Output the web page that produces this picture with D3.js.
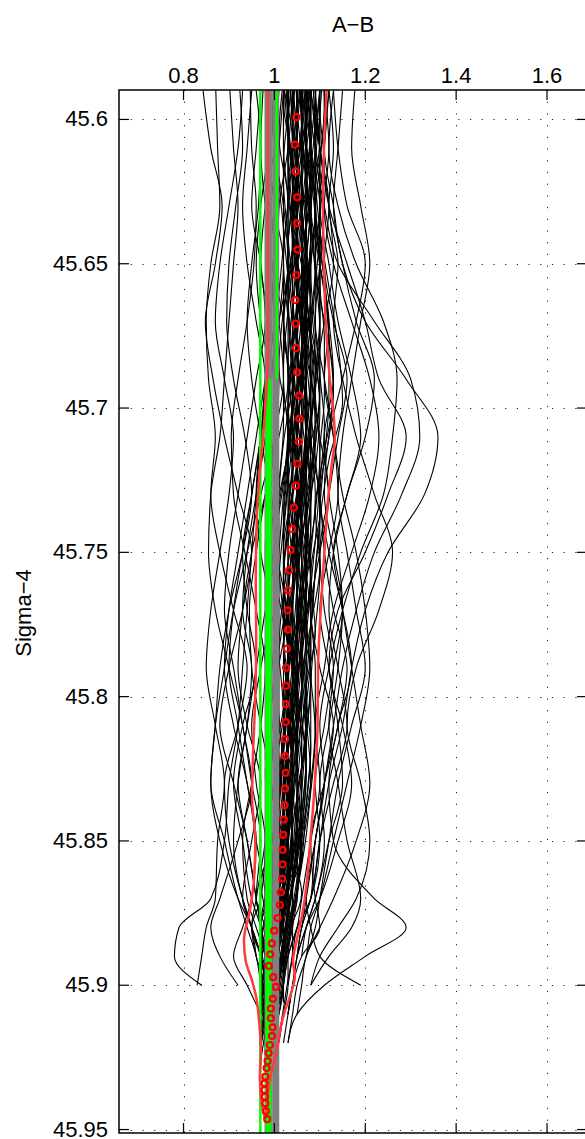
<html>
<head>
  <title>A-B vs Sigma-4</title>
  <script type="text/javascript" src="https://cdn.jsdelivr.net/npm/d3@7"></script>
  <style>
    body { margin: 0; background: #fff; }
    text { font-family: "Liberation Sans", Arial, Helvetica, sans-serif; }
  </style>
</head>
<body>
<script type="text/javascript">
  // size of the picture and of the plot box
  const w = 585;
  const h = 1139;
  const box = { left: 119, right: 587, top: 90, bottom: 1133 };

  // axis ticks
  const xTicks = [0.8, 1, 1.2, 1.4, 1.6];
  const yTicks = [45.6, 45.65, 45.7, 45.75, 45.8, 45.85, 45.9, 45.95];

  // sigma levels that every black profile is sampled on (profiles stop when their array ends)
  const sigmaLevels = [45.59, 45.61, 45.63, 45.65, 45.67, 45.69, 45.71, 45.73, 45.75, 45.77,
    45.79, 45.81, 45.83, 45.85, 45.87, 45.88, 45.89, 45.90, 45.91, 45.92, 45.93];

  // A-B values of the individual profiles (black lines)
  const profiles = [
    // dense core
    [1.02,1.02,1.03,1.03,1.02,1.02,1.03,1.02,1.01,1.00,1.00,1.01,1.01,1.00,0.99,0.98,0.98,0.98,0.99,0.98,0.98],
    [1.03,1.03,1.04,1.05,1.05,1.04,1.04,1.03,1.02,1.02,1.03,1.03,1.02,1.01,1.00,0.99,0.99,1.00,0.99,0.99],
    [1.04,1.04,1.04,1.03,1.03,1.04,1.05,1.05,1.04,1.03,1.02,1.02,1.03,1.02,1.01,1.00,0.99,0.98,0.98],
    [1.05,1.05,1.06,1.06,1.05,1.05,1.06,1.06,1.05,1.04,1.04,1.03,1.03,1.02,1.02,1.01,1.00,0.99,0.99,0.98],
    [1.06,1.06,1.05,1.05,1.06,1.07,1.07,1.06,1.04,1.04,1.05,1.05,1.04,1.03,1.02,1.02,1.01,1.00,0.99,0.99],
    [1.07,1.07,1.07,1.08,1.08,1.07,1.06,1.06,1.06,1.05,1.05,1.04,1.04,1.04,1.03,1.02,1.01,1.01,1.00,1.00],
    [1.08,1.08,1.07,1.07,1.08,1.09,1.09,1.08,1.07,1.07,1.06,1.06,1.05,1.05,1.04,1.03,1.02,1.01,1.00,1.00],
    [1.09,1.09,1.09,1.08,1.08,1.09,1.10,1.09,1.08,1.07,1.07,1.08,1.07,1.06,1.05,1.04,1.04,1.03,1.02,1.01],
    [1.10,1.10,1.09,1.09,1.10,1.10,1.11,1.10,1.09,1.08,1.08,1.07,1.07,1.06,1.05,1.04,1.03,1.02,1.02],
    [1.045,1.05,1.05,1.04,1.04,1.05,1.06,1.05,1.03,1.02,1.02,1.03,1.04,1.03,1.01,1.00,1.00,0.99,0.99,0.98,0.98],
    [1.055,1.05,1.04,1.04,1.05,1.06,1.05,1.04,1.04,1.05,1.06,1.05,1.03,1.02,1.02,1.01,1.01,1.00,1.00],
    [1.065,1.07,1.08,1.07,1.06,1.06,1.07,1.08,1.07,1.06,1.04,1.03,1.03,1.04,1.03,1.02,1.00,0.99,0.99],
    [1.075,1.07,1.06,1.06,1.07,1.08,1.08,1.07,1.05,1.04,1.04,1.05,1.05,1.04,1.02,1.01,1.01,1.02,1.01],
    [1.035,1.04,1.05,1.05,1.04,1.03,1.03,1.04,1.04,1.03,1.01,1.00,1.00,1.01,1.00,0.99,0.98,0.97,0.98,0.98],
    [1.085,1.08,1.08,1.09,1.10,1.10,1.09,1.07,1.06,1.06,1.07,1.07,1.06,1.05,1.05,1.04,1.03,1.02,1.01],
    [1.025,1.03,1.03,1.02,1.02,1.03,1.04,1.03,1.02,1.02,1.03,1.02,1.00,0.99,0.99,0.98,0.97,0.97,0.98,0.97,0.97],
    [1.095,1.10,1.10,1.10,1.09,1.08,1.08,1.09,1.10,1.09,1.08,1.06,1.05,1.05,1.04,1.03,1.02,1.01,1.01],
    [1.06,1.06,1.07,1.08,1.07,1.06,1.05,1.05,1.06,1.07,1.06,1.04,1.03,1.03,1.02,1.00,1.00,1.01,1.00],
    [1.04,1.03,1.03,1.04,1.05,1.05,1.04,1.02,1.01,1.01,1.02,1.04,1.04,1.03,1.02,1.01,1.00,0.99,0.99,0.98],
    [1.07,1.07,1.06,1.06,1.07,1.07,1.06,1.05,1.05,1.06,1.07,1.07,1.06,1.04,1.03,1.02,1.02,1.01,1.00],
    [1.05,1.06,1.06,1.07,1.07,1.06,1.06,1.07,1.06,1.04,1.03,1.03,1.02,1.02,1.01,1.01,1.00,0.99,0.99,0.99],
    [1.08,1.09,1.09,1.09,1.08,1.07,1.07,1.08,1.08,1.08,1.09,1.09,1.08,1.06,1.05,1.04,1.03,1.03,1.02,1.01],
    [1.03,1.03,1.02,1.02,1.03,1.04,1.04,1.03,1.03,1.04,1.04,1.03,1.02,1.02,1.01,0.99,0.98,0.98,0.98,0.97],
    [1.06,1.05,1.05,1.06,1.06,1.07,1.08,1.07,1.05,1.04,1.04,1.04,1.05,1.05,1.03,1.02,1.01,1.00,1.01,1.00],
    [1.04,1.04,1.05,1.06,1.06,1.05,1.05,1.06,1.07,1.06,1.05,1.04,1.03,1.03,1.02,1.01,1.02,1.01,1.00],
    [1.07,1.08,1.08,1.07,1.06,1.05,1.05,1.06,1.07,1.07,1.06,1.05,1.05,1.06,1.05,1.03,1.02,1.01,1.00],
    [1.10,1.09,1.08,1.08,1.09,1.10,1.10,1.09,1.07,1.06,1.07,1.08,1.09,1.08,1.06,1.05,1.04,1.03,1.02],
    [1.05,1.05,1.04,1.04,1.03,1.04,1.05,1.06,1.06,1.05,1.04,1.02,1.02,1.03,1.03,1.02,1.01,1.00,0.99,0.99],
    [1.02,1.03,1.04,1.04,1.03,1.02,1.02,1.01,1.00,1.00,1.01,1.02,1.02,1.01,1.00,0.99,0.98,0.99,0.99,0.98,0.97],
    [1.09,1.08,1.08,1.07,1.07,1.08,1.09,1.10,1.09,1.07,1.05,1.05,1.06,1.06,1.05,1.04,1.02,1.01,1.00,0.99],
    [1.06,1.06,1.05,1.04,1.04,1.05,1.06,1.06,1.07,1.08,1.07,1.06,1.04,1.03,1.03,1.02,1.03,1.02,1.01],
    [1.04,1.05,1.05,1.05,1.06,1.07,1.06,1.04,1.03,1.03,1.04,1.05,1.04,1.02,1.01,1.00,0.99,0.98,0.99,0.98],
    [1.08,1.07,1.07,1.08,1.09,1.09,1.08,1.07,1.07,1.08,1.07,1.05,1.04,1.04,1.03,1.03,1.02,1.01,1.00],
    [1.03,1.04,1.04,1.03,1.03,1.03,1.04,1.05,1.04,1.02,1.01,1.01,1.02,1.03,1.02,1.00,0.99,0.98,0.97,0.98,0.98],
    [1.11,1.11,1.10,1.10,1.11,1.12,1.12,1.11,1.10,1.10,1.09,1.08,1.08,1.07,1.06,1.05,1.04,1.03,1.02],
    [1.07,1.06,1.06,1.07,1.08,1.08,1.07,1.06,1.04,1.03,1.04,1.06,1.07,1.06,1.04,1.03,1.02,1.02,1.01],
    [1.05,1.04,1.04,1.05,1.05,1.04,1.03,1.03,1.04,1.05,1.05,1.04,1.03,1.04,1.04,1.02,1.01,1.00,0.99],
    [1.06,1.07,1.07,1.06,1.05,1.05,1.04,1.05,1.06,1.06,1.05,1.03,1.02,1.01,1.01,1.00,0.99,1.00,1.00,0.99],
    [1.09,1.09,1.08,1.08,1.07,1.06,1.07,1.08,1.08,1.07,1.06,1.07,1.07,1.06,1.04,1.04,1.03,1.02,1.01,1.00],
    [1.04,1.04,1.03,1.03,1.04,1.06,1.07,1.06,1.05,1.04,1.03,1.03,1.04,1.04,1.03,1.01,1.00,0.99,0.98,0.99],
    [1.065,1.06,1.06,1.05,1.05,1.06,1.07,1.07,1.06,1.05,1.05,1.06,1.05,1.04,1.02,1.02,1.01,1.01,1.00,1.00],
    [1.075,1.08,1.09,1.08,1.07,1.07,1.08,1.09,1.08,1.06,1.05,1.04,1.04,1.05,1.05,1.03,1.02,1.02,1.01],
    [1.035,1.03,1.03,1.04,1.05,1.05,1.04,1.04,1.03,1.02,1.02,1.03,1.03,1.02,1.00,0.99,0.99,0.98,0.98,0.97,0.97],
    [1.055,1.06,1.07,1.07,1.06,1.06,1.07,1.06,1.05,1.05,1.06,1.06,1.05,1.03,1.02,1.01,1.00,1.00,1.00,0.99],
    [1.085,1.09,1.09,1.10,1.10,1.09,1.08,1.08,1.07,1.06,1.06,1.07,1.08,1.07,1.05,1.04,1.04,1.03,1.02,1.01],
    [1.045,1.04,1.05,1.06,1.07,1.07,1.06,1.05,1.05,1.06,1.05,1.04,1.03,1.02,1.02,1.02,1.01,1.00,0.99],
    [1.025,1.02,1.02,1.03,1.04,1.04,1.03,1.03,1.02,1.01,1.01,1.00,1.01,1.02,1.01,1.00,0.98,0.97,0.97,0.98,0.97],
    [1.07,1.07,1.08,1.08,1.07,1.08,1.09,1.08,1.06,1.05,1.06,1.07,1.06,1.05,1.04,1.03,1.02,1.01,1.01],
    [1.10,1.10,1.11,1.10,1.10,1.11,1.11,1.10,1.10,1.09,1.08,1.07,1.06,1.06,1.06,1.05,1.04,1.03,1.02,1.01],
    [1.05,1.05,1.05,1.04,1.05,1.06,1.05,1.04,1.03,1.03,1.04,1.04,1.03,1.02,1.01,1.01,1.00,0.99,0.98,0.98,0.98],
    [1.06,1.06,1.07,1.06,1.06,1.07,1.07,1.07,1.07,1.06,1.05,1.05,1.04,1.04,1.03,1.03,1.02,1.01,1.00,1.00],
    [1.04,1.05,1.05,1.05,1.04,1.04,1.05,1.05,1.05,1.04,1.03,1.04,1.04,1.03,1.02,1.00,1.00,1.00,0.99,0.99,0.98],
    [1.08,1.08,1.07,1.07,1.06,1.07,1.08,1.08,1.07,1.07,1.08,1.08,1.07,1.05,1.04,1.03,1.03,1.02,1.01,1.00],
    [1.03,1.03,1.04,1.05,1.04,1.04,1.04,1.03,1.02,1.02,1.03,1.03,1.02,1.01,1.00,0.99,0.99,0.99,0.98,0.98],
    [1.06,1.05,1.06,1.06,1.07,1.06,1.05,1.04,1.04,1.04,1.03,1.03,1.04,1.04,1.03,1.02,1.02,1.01,1.00,0.99],
    // wandering inside the envelope
    [1.05,1.06,1.04,1.05,1.07,1.06,1.04,1.03,1.05,1.04,1.02,1.03,1.04,1.02,1.01,1.00,0.99,1.00,0.99,0.98],
    [1.08,1.07,1.08,1.06,1.07,1.09,1.08,1.06,1.05,1.06,1.04,1.05,1.03,1.04,1.02,1.01,1.00,0.99,1.00],
    [1.06,1.07,1.05,1.04,1.06,1.08,1.10,1.07,1.04,1.02,1.03,1.05,1.04,1.03,1.01,0.99,1.00,1.01],
    [1.04,1.03,1.05,1.07,1.08,1.06,1.04,1.05,1.06,1.04,1.03,1.02,1.00,1.01,1.02,1.00,0.98,0.97,0.98],
    [1.07,1.06,1.08,1.07,1.06,1.04,1.03,1.05,1.06,1.08,1.06,1.05,1.03,1.02,1.03,1.02,1.04,1.02,1.00],
    [1.02,1.04,1.03,1.02,1.03,1.04,1.06,1.04,1.02,1.03,1.01,0.99,1.00,0.98,0.99,0.97,0.98,0.99,0.98],
    [1.10,1.11,1.10,1.09,1.11,1.12,1.13,1.11,1.09,1.10,1.08,1.06,1.07,1.05,1.06,1.04,1.03],
    [1.09,1.07,1.06,1.08,1.07,1.09,1.10,1.09,1.07,1.08,1.06,1.05,1.07,1.06,1.04,1.02,1.01],
    [1.02,1.01,1.03,1.04,1.02,1.01,1.03,1.02,1.00,0.99,1.01,1.00,0.98,0.99,1.00,0.98,0.97,0.98,0.97],
    [1.11,1.10,1.09,1.10,1.12,1.14,1.15,1.12,1.10,1.08,1.09,1.07,1.08,1.07,1.05,1.06,1.04],
    [1.06,1.08,1.07,1.05,1.06,1.07,1.05,1.02,1.00,1.02,1.04,1.05,1.02,1.00,0.99,1.00,1.02,1.01,1.00],
    [1.03,1.02,1.04,1.05,1.03,1.02,1.04,1.03,1.01,1.00,1.02,1.04,1.02,1.01,0.99,0.97,0.98,1.00,0.99,0.98,0.97],
    [0.99,1.00,1.00,0.99,1.00,1.01,1.00,0.99,0.98,0.98,0.99,1.00,0.99,0.98,0.98,0.97,0.97,0.98,0.98,0.97,0.97],
    [1.00,1.01,1.01,1.02,1.01,1.00,0.99,0.99,1.00,1.01,1.00,0.99,0.98,0.99,0.99,0.98,0.98,0.99,0.99,0.98],
    // left side
    [0.843,0.86,0.885,0.87,0.848,0.865,0.89,0.92,0.95,0.93,0.90,0.88,0.91,0.94,0.96,0.97,0.98,0.97],
    [0.871,0.875,0.88,0.86,0.85,0.855,0.87,0.86,0.88,0.91,0.94,0.92,0.89,0.90,0.93,0.95,0.96],
    [0.902,0.91,0.92,0.91,0.90,0.89,0.88,0.86,0.855,0.87,0.90,0.93,0.95,0.97,0.96,0.98,0.99],
    [0.924,0.93,0.915,0.90,0.895,0.91,0.935,0.95,0.93,0.90,0.88,0.87,0.86,0.88,0.92,0.95,0.97,0.98,0.97],
    [0.947,0.95,0.96,0.955,0.94,0.92,0.905,0.91,0.935,0.96,0.98,0.97,0.95,0.93,0.94,0.96,0.98,0.99,0.98,0.97],
    [0.96,0.97,0.965,0.95,0.94,0.95,0.97,0.99,1.00,0.98,0.96,0.94,0.92,0.91,0.93,0.95,0.97,0.98,0.99],
    [0.975,0.97,0.98,0.995,1.01,1.02,1.00,0.98,0.96,0.945,0.95,0.97,0.99,0.98,0.96,0.95,0.97,0.98],
    [0.99,1.00,1.01,1.00,0.99,0.98,0.97,0.96,0.95,0.94,0.93,0.92,0.90,0.89,0.86,0.79,0.78,0.84],
    [0.93,0.92,0.90,0.88,0.87,0.89,0.91,0.90,0.88,0.86,0.85,0.87,0.89,0.875,0.87,0.85,0.84,0.83],
    [0.97,0.96,0.95,0.97,0.98,0.96,0.94,0.92,0.90,0.89,0.91,0.93,0.95,0.92,0.88,0.86,0.88,0.92],
    [0.95,0.94,0.93,0.94,0.96,0.98,0.97,0.95,0.93,0.91,0.90,0.92,0.94,0.96,0.95,0.93,0.91,0.94,0.97],
    [0.98,0.985,0.97,0.96,0.97,0.99,0.98,0.96,0.94,0.93,0.95,0.94,0.92,0.94,0.96,0.97,0.98,0.99,0.98,0.97],
    // right side
    [1.15,1.14,1.13,1.15,1.18,1.22,1.20,1.16,1.13,1.12,1.14,1.16,1.13,1.10,1.08,1.06,1.05,1.04,1.03,1.02],
    [1.177,1.17,1.19,1.21,1.19,1.17,1.15,1.14,1.16,1.18,1.20,1.17,1.14,1.12,1.10,1.09,1.07],
    [1.12,1.11,1.13,1.15,1.20,1.29,1.36,1.33,1.25,1.20,1.17,1.15,1.12,1.10,1.08,1.06,1.05],
    [1.10,1.09,1.11,1.14,1.22,1.30,1.32,1.28,1.22,1.18,1.15,1.13,1.11,1.09,1.07,1.06],
    [1.13,1.12,1.14,1.18,1.24,1.27,1.26,1.24,1.19,1.15,1.12,1.10,1.11,1.09,1.08,1.05,1.04,1.03],
    [1.09,1.10,1.12,1.16,1.20,1.23,1.29,1.25,1.20,1.14,1.12,1.15,1.17,1.14,1.10,1.07,1.05],
    [1.11,1.12,1.11,1.13,1.17,1.21,1.23,1.21,1.17,1.13,1.11,1.09,1.10,1.08,1.06,1.05,1.03,1.02,1.01],
    [1.10,1.09,1.08,1.10,1.12,1.11,1.13,1.15,1.18,1.20,1.21,1.19,1.16,1.13,1.10,1.08,1.07,1.05,1.04,1.03],
    [1.12,1.13,1.12,1.14,1.13,1.15,1.18,1.22,1.26,1.23,1.18,1.16,1.19,1.21,1.18,1.14,1.10,1.08],
    [1.07,1.08,1.10,1.09,1.11,1.13,1.12,1.10,1.12,1.15,1.17,1.14,1.12,1.13,1.22,1.29,1.20,1.11,1.05,1.03],
    [1.06,1.07,1.09,1.08,1.06,1.08,1.10,1.12,1.10,1.08,1.10,1.13,1.11,1.09,1.07,1.08,1.10,1.19],
    [1.12,1.11,1.10,1.12,1.14,1.17,1.19,1.16,1.13,1.15,1.17,1.19,1.21,1.18,1.13,1.10,1.07,1.06,1.05],
    [1.08,1.10,1.12,1.11,1.13,1.16,1.14,1.12,1.10,1.11,1.13,1.12,1.14,1.16,1.19,1.17,1.12,1.08],
    [1.13,1.14,1.16,1.20,1.18,1.15,1.12,1.11,1.13,1.15,1.14,1.12,1.10,1.11,1.09,1.07,1.06],
    // wider in the middle
    [1.02,1.01,1.00,0.99,1.00,0.98,0.96,0.94,0.92,0.90,0.89,0.91,0.94,0.96,0.98,0.97,0.99],
    [1.00,0.99,1.00,1.02,1.01,0.99,0.97,0.95,0.93,0.94,0.96,0.93,0.91,0.93,0.95,0.97,0.98,0.99],
    [1.04,1.03,1.01,1.00,1.02,1.03,1.01,0.98,0.95,0.93,0.92,0.94,0.97,0.95,0.93,0.95,0.97,0.98,0.97],
    [1.06,1.08,1.09,1.10,1.12,1.13,1.11,1.12,1.14,1.15,1.13,1.11,1.09,1.10,1.08,1.05,1.03,1.02,1.01,1.00],
    [1.07,1.09,1.11,1.10,1.09,1.11,1.13,1.14,1.12,1.10,1.12,1.14,1.15,1.12,1.09,1.07,1.05,1.04,1.03],
    [1.01,1.00,0.98,0.97,0.99,1.01,1.00,0.97,0.94,0.91,0.89,0.87,0.86,0.89,0.92,0.94,0.96,0.97],
    [1.09,1.10,1.12,1.13,1.11,1.09,1.08,1.10,1.11,1.13,1.16,1.14,1.11,1.08,1.09,1.10,1.06,1.04,1.03],
    [0.99,1.00,1.02,1.03,1.01,0.99,0.97,0.96,0.97,0.99,0.97,0.95,0.96,0.98,0.97,0.95,0.96,0.98,0.99,0.98]
  ];

  // each core profile was sampled a little higher up than the common levels (sigma offset);
  // profiles not listed here have no offset
  const profileShift = [
    0, -0.01, -0.005, -0.015, -0.002, -0.012, -0.007, -0.017, -0.004, -0.009,
    -0.014, -0.001, -0.011, -0.006, -0.016, -0.003, -0.013, -0.008, -0.018, -0.005,
    -0.01, 0, -0.015, -0.007, -0.012, -0.002, -0.017, -0.009, -0.004, -0.014,
    -0.011, -0.001, -0.016, -0.006, -0.013, -0.003, -0.008, -0.018, -0.01, -0.005,
    -0.015, 0, -0.012, -0.007, -0.002, -0.017, -0.009, -0.004, -0.014, -0.011,
    -0.006, -0.001, -0.016, -0.013, -0.003,
    -0.008, -0.003, -0.013, -0.006, -0.011, -0.001, -0.015, -0.009, -0.004, -0.012,
    -0.007, -0.016, -0.002, -0.01
  ];

  // red curves (left and right envelope)
  const lowerSigma = [45.5898, 45.62, 45.65, 45.68, 45.69, 45.70, 45.71, 45.72, 45.73, 45.74, 45.76, 45.78,
    45.80, 45.82, 45.835, 45.85, 45.8635, 45.874, 45.8845, 45.8917, 45.898, 45.905, 45.912, 45.922,
    45.932, 45.941, 45.946];
  const lowerValue = [0.986, 0.986, 0.986, 0.986, 0.984, 0.980, 0.975, 0.969, 0.964, 0.961, 0.959, 0.960,
    0.958, 0.953, 0.951, 0.958, 0.955, 0.946, 0.933, 0.937, 0.950, 0.961, 0.966, 0.970,
    0.968, 0.972, 0.979];
  const upperSigma = [45.5898, 45.61, 45.63, 45.65, 45.67, 45.68, 45.69, 45.70, 45.71, 45.72, 45.73, 45.75,
    45.77, 45.79, 45.81, 45.83, 45.85, 45.8635, 45.874, 45.8845, 45.8917, 45.8969, 45.9021, 45.909,
    45.913, 45.9225, 45.932, 45.937, 45.942, 45.946];
  const upperValue = [1.115, 1.109, 1.107, 1.109, 1.113, 1.117, 1.122, 1.129, 1.133, 1.126, 1.119, 1.110,
    1.102, 1.096, 1.095, 1.089, 1.079, 1.072, 1.063, 1.049, 1.041, 1.045, 1.038, 1.023,
    1.016, 1.005, 0.991, 0.986, 0.984, 0.981];

  // red circles (median)
  const medianSigma = [45.5992, 45.6087, 45.6180, 45.6270, 45.6360, 45.6451, 45.6539, 45.6626, 45.6708, 45.6792,
    45.6876, 45.6957, 45.7037, 45.7117, 45.7193, 45.7269, 45.7345, 45.7419, 45.7492, 45.7562,
    45.7632, 45.7701, 45.7768, 45.7834, 45.7900, 45.7963, 45.8026, 45.8088, 45.8147, 45.8206,
    45.8264, 45.8318, 45.8376, 45.8426, 45.8479, 45.8531, 45.8581, 45.8631, 45.8678, 45.8722,
    45.8767, 45.8811, 45.8855, 45.8893, 45.8933, 45.8972, 45.9006, 45.9047, 45.9081, 45.9114,
    45.9146, 45.9176, 45.9207, 45.9235, 45.9263, 45.9287, 45.9317, 45.9340, 45.9363, 45.9386,
    45.9409, 45.9436, 45.9464];
  const medianValue = [1.0488, 1.0451, 1.0466, 1.0501, 1.0501, 1.0510, 1.0479, 1.0457, 1.0466, 1.0479,
    1.0501, 1.0545, 1.0554, 1.0538, 1.0510, 1.0473, 1.0429, 1.0391, 1.0356, 1.0330,
    1.0297, 1.0290, 1.0297, 1.0275, 1.0259, 1.0253, 1.0253, 1.0253, 1.0237, 1.0237,
    1.0246, 1.0237, 1.0224, 1.0209, 1.0193, 1.0182, 1.0180, 1.0171, 1.0143, 1.0121,
    1.0070, 0.9996, 0.9945, 0.9908, 0.9879, 0.9974, 1.0033, 0.9967, 0.9923, 0.9923,
    0.9960, 0.9945, 0.9901, 0.9873, 0.9851, 0.9829, 0.9802, 0.9785, 0.9785, 0.9791,
    0.9802, 0.9813, 0.9842];

  // vertical reference lines: value, colour, width, sigma range
  const refValue = [0.969, 0.987, 0.987, 1.003, 1.005];
  const refColor = ["#00ff00", "#808080", "#00ff00", "#808080", "#00ff00"];
  const refWidth = [2.5, 8, 6, 7, 2.5];
  const refFrom = [45.5898, 45.5898, 45.69, 45.5898, 45.5898];
  const refTo = [45.9512, 45.9512, 45.9512, 45.9512, 45.69];

  //scales
  const x = d3.scaleLinear().domain([0.658, 1.688]).range([box.left, box.right]);
  const y = d3.scaleLinear().domain([45.5898, 45.9512]).range([box.top, box.bottom]);

  //create svg
  const svg = d3.select("body")
    .append("svg")
    .attr("width", w)
    .attr("height", h);

  svg.append("rect").attr("width", w).attr("height", h).attr("fill", "#fff");

  svg.append("clipPath").attr("id", "clip")
    .append("rect")
    .attr("x", box.left).attr("y", box.top)
    .attr("width", box.right - box.left).attr("height", box.bottom - box.top);

  // dotted grid
  const grid = svg.append("g").attr("stroke", "#222").attr("stroke-width", 1).attr("stroke-dasharray", "1.2,10.5");
  grid.selectAll(".gx").data(xTicks).join("line")
    .attr("x1", d => Math.round(x(d)) + 0.5).attr("x2", d => Math.round(x(d)) + 0.5)
    .attr("y1", box.top).attr("y2", box.bottom);
  grid.selectAll(".gy").data(yTicks).join("line")
    .attr("y1", d => Math.round(y(d)) + 0.5).attr("y2", d => Math.round(y(d)) + 0.5)
    .attr("x1", box.left).attr("x2", box.right);

  const plot = svg.append("g").attr("clip-path", "url(#clip)");

  // black profiles
  const profileLine = d3.line()
    .x(d => x(d[1]))
    .y(d => y(d[0]))
    .curve(d3.curveMonotoneY);

  plot.append("g").selectAll("path").data(profiles).join("path")
    .attr("d", (p, k) => profileLine(p.map((v, i) => [sigmaLevels[i] + (profileShift[k] || 0), v])))
    .attr("fill", "none")
    .attr("stroke", "#000")
    .attr("stroke-width", 1.1);

  // vertical green / gray lines
  plot.append("g").selectAll("line").data(refValue).join("line")
    .attr("x1", d => x(d)).attr("x2", d => x(d))
    .attr("y1", (d, i) => y(refFrom[i])).attr("y2", (d, i) => y(refTo[i]))
    .attr("stroke", (d, i) => refColor[i])
    .attr("stroke-width", (d, i) => refWidth[i]);

  // red envelope curves
  const redLine = d3.line().x(d => x(d[1])).y(d => y(d[0])).curve(d3.curveMonotoneY);
  plot.append("path")
    .attr("d", redLine(lowerSigma.map((s, i) => [s, lowerValue[i]])))
    .attr("fill", "none").attr("stroke", "#ff3b3b").attr("stroke-width", 2.5);
  plot.append("path")
    .attr("d", redLine(upperSigma.map((s, i) => [s, upperValue[i]])))
    .attr("fill", "none").attr("stroke", "#ff3b3b").attr("stroke-width", 2.5);

  // red circles
  plot.append("g").selectAll("circle").data(medianSigma).join("circle")
    .attr("cx", (d, i) => x(medianValue[i]))
    .attr("cy", d => y(d))
    .attr("r", 3)
    .attr("fill", "none")
    .attr("stroke", "#ff0000")
    .attr("stroke-width", 2.2);

  // box
  svg.append("rect")
    .attr("x", box.left).attr("y", box.top)
    .attr("width", box.right - box.left).attr("height", box.bottom - box.top)
    .attr("fill", "none").attr("stroke", "#000").attr("stroke-width", 1.5);

  // ticks on all four sides, pointing inwards
  const tl = 10;
  const ticks = svg.append("g").attr("stroke", "#000").attr("stroke-width", 1.2);
  xTicks.forEach(function(d) {
    ticks.append("line").attr("x1", x(d)).attr("x2", x(d)).attr("y1", box.top).attr("y2", box.top + tl);
    ticks.append("line").attr("x1", x(d)).attr("x2", x(d)).attr("y1", box.bottom).attr("y2", box.bottom - tl);
  });
  yTicks.forEach(function(d) {
    ticks.append("line").attr("y1", y(d)).attr("y2", y(d)).attr("x1", box.left).attr("x2", box.left + tl);
    ticks.append("line").attr("y1", y(d)).attr("y2", y(d)).attr("x1", box.right).attr("x2", box.right - tl);
  });

  // tick labels
  svg.append("g").selectAll("text").data(xTicks).join("text")
    .attr("x", d => x(d)).attr("y", 83)
    .attr("text-anchor", "middle")
    .attr("font-size", 22)
    .text(d => d3.format("")(d));

  svg.append("g").selectAll("text").data(yTicks).join("text")
    .attr("x", 108).attr("y", d => y(d) + 7)
    .attr("text-anchor", "end")
    .attr("font-size", 22)
    .text(d => d3.format("")(d));

  // axis titles
  svg.append("text")
    .attr("x", (box.left + box.right) / 2).attr("y", 32)
    .attr("text-anchor", "middle")
    .attr("font-size", 22)
    .text("A\u2212B");

  svg.append("text")
    .attr("transform", "translate(31,613) rotate(-90)")
    .attr("text-anchor", "middle")
    .attr("font-size", 22)
    .text("Sigma\u22124");
</script>
</body>
</html>
